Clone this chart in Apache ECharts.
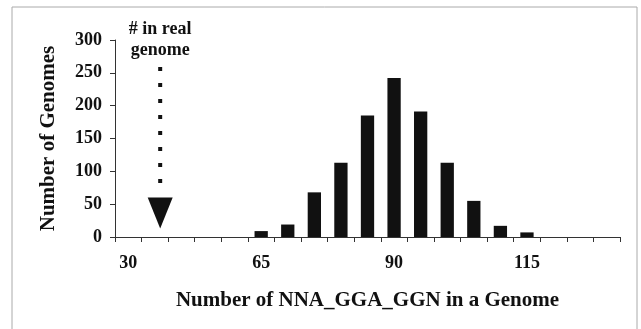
<!DOCTYPE html>
<html>
<head>
<meta charset="utf-8">
<script src="https://cdn.jsdelivr.net/npm/echarts@6/dist/echarts.min.js"></script>
<style>
html,body{margin:0;padding:0;background:#fff;}
#c{width:641px;height:329px;}
</style>
</head>
<body>
<div id="c"></div>
<script>
// Category bins (labels shown at 30, 65, 90, 115)
const categories = ['30','37','44','51','58','65','70','75','80','85','90','95','100','105','110','115','120','125','130'];
// Number of genomes per bin
const genomeCounts = [0,0,0,0,0,9,19,68,113,185,242,191,113,55,17,7,0,0,0];
// Y axis ticks
const yTicks = [0,50,100,150,200,250,300];
// Annotation: position of real genome count (between bins 1 and 2)
const realGenomeIndex = 1.2;
const annotationLines = ['# in real','genome'];

const font = '"Liberation Serif", "Times New Roman", serif';
const chart = echarts.init(document.getElementById('c'));
chart.setOption({
  animation:false,
  backgroundColor:'#fff',
  grid:{left:115,right:21,top:40,bottom:92},
  xAxis:{
    type:'category',
    data:categories,
    boundaryGap:true,
    name:'Number of NNA_GGA_GGN in a Genome',
    nameLocation:'middle',
    nameGap:53,
    nameTextStyle:{fontFamily:font,fontWeight:'bold',fontSize:21,color:'#111'},
    axisLine:{lineStyle:{color:'#333',width:1}},
    axisTick:{show:true,alignWithLabel:false,interval:0,length:5,inside:false,lineStyle:{color:'#333'}},
    axisLabel:{interval:function(i){return i===0||i===5||i===10||i===15;},fontFamily:font,fontWeight:'bold',fontSize:18,color:'#111',margin:17},
    splitLine:{show:false}
  },
  yAxis:{
    type:'value',
    min:yTicks[0],max:yTicks[yTicks.length-1],interval:50,
    name:'Number of Genomes',
    nameLocation:'middle',
    nameGap:56,
    nameRotate:90,
    nameTextStyle:{fontFamily:font,fontWeight:'bold',fontSize:21,color:'#111'},
    axisLine:{show:true,lineStyle:{color:'#333',width:1}},
    axisTick:{show:true,length:5,lineStyle:{color:'#333'}},
    axisLabel:{fontFamily:font,fontWeight:'bold',fontSize:18,color:'#111',margin:13},
    splitLine:{show:false}
  },
  series:[{
    type:'bar',
    data:genomeCounts,
    barWidth:'50%',
    itemStyle:{color:'#111'}
  }]
});

// Annotation arrow placed through the chart's scales
const p1 = chart.convertToPixel({gridIndex:0},[1,0]);
const p2 = chart.convertToPixel({gridIndex:0},[2,0]);
const ax = p1[0] + (realGenomeIndex-1)*(p2[0]-p1[0]);
const yTop = chart.convertToPixel({gridIndex:0},[0,256])[1];
const yDotEnd = chart.convertToPixel({gridIndex:0},[0,75])[1];
const yHeadTop = chart.convertToPixel({gridIndex:0},[0,60])[1];
const yTip = chart.convertToPixel({gridIndex:0},[0,13])[1];
chart.setOption({
  graphic:[{
    type:'rect',
    shape:{x:12,y:7,width:625,height:340},
    style:{fill:'none',stroke:'#aaa',lineWidth:1},
    silent:true
  },{
    type:'text',
    x:ax, y:yTop-50,
    style:{text:annotationLines.join('\n'),font:'bold 18px '+font,fill:'#111',textAlign:'center',textVerticalAlign:'top',lineHeight:21}
  },{
    type:'line',
    shape:{x1:ax,y1:yTop-2,x2:ax,y2:yDotEnd},
    style:{stroke:'#111',lineWidth:4,lineDash:[4,12]}
  },{
    type:'polygon',
    shape:{points:[[ax-12.5,yHeadTop],[ax+12.5,yHeadTop],[ax,yTip]]},
    style:{fill:'#111'}
  }]
});
</script>
</body>
</html>
